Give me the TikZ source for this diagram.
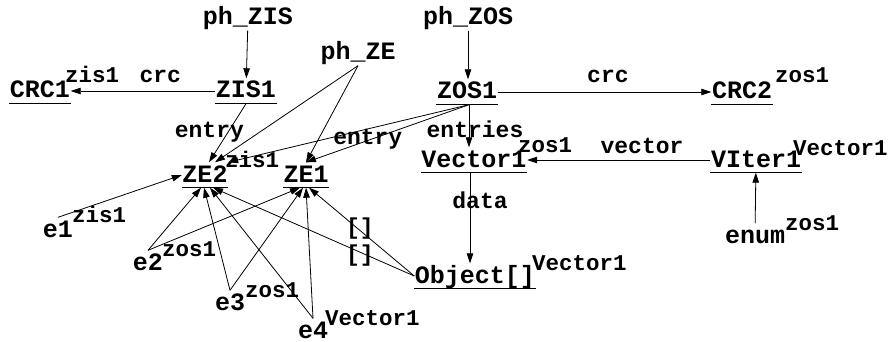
\documentclass[tikz,border=0pt]{standalone}
\usepackage{fontspec}
\setmonofont{Liberation Mono}
\usetikzlibrary{arrows.meta}
\begin{document}
\begin{tikzpicture}[x=1pt,y=-1pt,
  base/.style={font=\ttfamily\bfseries\fontsize{25}{25}\selectfont, anchor=base,
    inner xsep=0.5pt, inner ysep=0.5pt, text height=19pt, text depth=5pt},
  obj/.style={base, append after command={(\tikzlastnode.south west) edge[line width=0.8pt] (\tikzlastnode.south east)}},
  plain/.style={base},
  sup/.style={font=\ttfamily\bfseries\fontsize{22.5}{22.5}\selectfont, anchor=base west, inner sep=0pt},
  lbl/.style={font=\ttfamily\bfseries\fontsize{23}{23}\selectfont, anchor=base, inner sep=0pt},
  arr/.style={draw, line width=0.8pt, -{Triangle[length=10pt,width=6.5pt]}}]
\fill[white] (0,0) rectangle (890,342);
\useasboundingbox (0,0) rectangle (890,342);

% objects
\node[plain] (phZIS) at (248,25) {ph\_ZIS};
\node[obj]   (ZIS1)  at (246,98) {ZIS1};
\node[obj]   (CRC1)  at (40,98)  {CRC1};
\node[plain] (phZE)  at (358,60) {ph\_ZE};
\node[plain] (phZOS) at (468,25) {ph\_ZOS};
\node[obj]   (ZOS1)  at (467,99) {ZOS1};
\node[obj]   (CRC2)  at (742,99) {CRC2};
\node[obj]   (Vector1) at (474,167) {Vector1};
\node[obj]   (VIter1)  at (756,167) {VIter1};
\node[plain] (enum)  at (755,243) {enum};
\node[obj]   (Object) at (475,283) {Object[]};
\node[obj]   (ZE2)   at (205,182) {ZE2};
\node[obj]   (ZE1)   at (306,182) {ZE1};
\node[plain] (e1)    at (58,237)  {e1};
\node[plain] (e2)    at (148,270) {e2};
\node[plain] (e3)    at (230,310) {e3};
\node[plain] (e4)    at (313,338) {e4};

% superscripts
\node[sup] (CRC1s)   at (65,83)   {zis1};
\node[sup] (CRC2s)   at (775,83)  {zos1};
\node[sup] (ZE2s)    at (225,167) {zis1};
\node[sup] (Vector1s) at (518,152) {zos1};
\node[sup] (VIter1s) at (793,155) {Vector1};
\node[sup] (enums)   at (785,230) {zos1};
\node[sup] (Objects) at (532,270) {Vector1};
\node[sup] (e1s)     at (72,222)  {zis1};
\node[sup] (e2s)     at (162,256) {zos1};
\node[sup] (e3s)     at (245,297) {zos1};
\node[sup] (e4s)     at (325,325) {Vector1};

% references
\draw[arr] (phZIS) -- (ZIS1);
\draw[arr] (ZIS1) -- node[lbl, pos=0.38, yshift=8pt] {crc} (CRC1);
\draw[arr] (phZOS.south) -- (phZOS.south |- ZOS1.north);
\draw[arr] (ZOS1) -- node[lbl, pos=0.516, yshift=9pt] {crc} (CRC2);
\draw[arr] ([xshift=2pt]ZOS1.south) -- node[lbl, pos=0.78, xshift=6pt] {entries} ([xshift=-5pt]Vector1.north);
\draw[arr] (VIter1) -- node[lbl, pos=0.373, yshift=7pt] {vector} (Vector1);
\draw[arr] (enum) -- (VIter1);
\draw[arr] ([xshift=-4pt]Vector1.south) -- node[lbl, pos=0.39, xshift=10pt] {data} ([xshift=-5pt]Object.north);

\draw[arr] (phZE.south) -- ([xshift=10pt]ZE2.north);
\draw[arr] (phZE.south) -- (ZE1.north);
\draw[arr] (ZIS1.south) -- node[lbl, pos=0.585, xshift=-15pt] {entry} ([xshift=4pt]ZE2.north);
\draw[arr] ([xshift=2pt]ZOS1.south) -- (ZE2.north east);
\draw[arr] ([xshift=2pt]ZOS1.south) -- node[lbl, pos=0.621, yshift=-4pt] {entry} (ZE1.north);

\draw[arr] (e1.north) -- (ZE2.west);
\draw[arr] (e2.north) -- ([xshift=-4pt]ZE2.south);
\draw[arr] (e2.north) -- ([xshift=-6pt]ZE1.south);
\draw[arr] (e3.north) -- ([xshift=-1pt]ZE2.south);
\draw[arr] (e3.north) -- ([xshift=-3pt]ZE1.south);
\draw[arr] (e4.north) -- ([xshift=5pt]ZE2.south);
\draw[arr] (e4.north) -- (ZE1.south);
\draw[arr] (Object.west) -- node[lbl, pos=0.27, yshift=-9pt] {[]} ([xshift=8pt]ZE2.south);
\draw[arr] (Object.west) -- node[lbl, pos=0.517, yshift=-3.7pt] {[]} ([xshift=3pt]ZE1.south);
\end{tikzpicture}
\end{document}
